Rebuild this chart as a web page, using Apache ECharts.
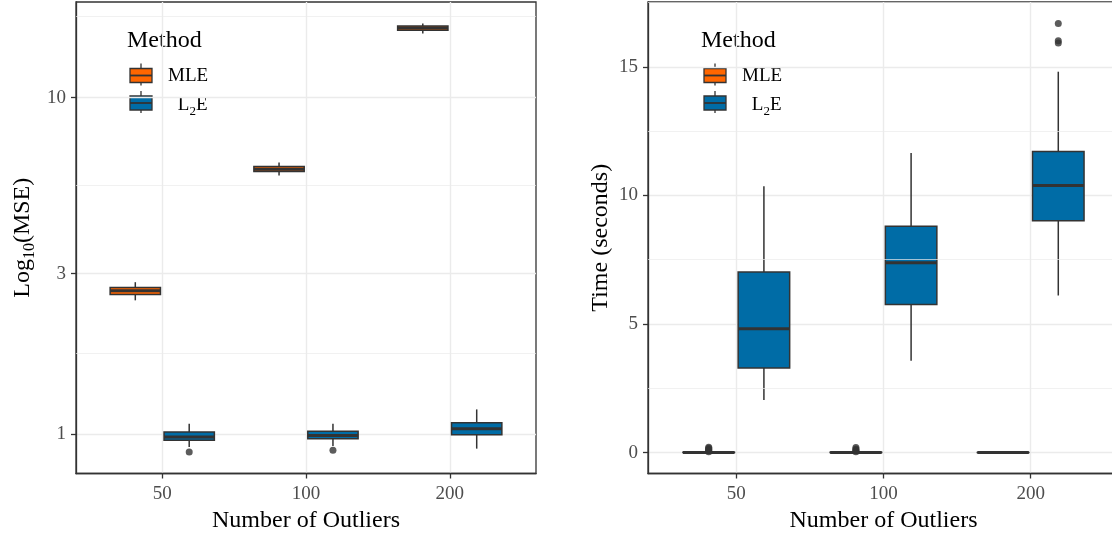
<!DOCTYPE html>
<html><head><meta charset="utf-8">
<script src="https://cdn.jsdelivr.net/npm/echarts@6/dist/echarts.min.js"></script>
<style>html,body{margin:0;padding:0;background:#fff;overflow:hidden}#c{width:1112px;height:533px}</style>
</head><body><div id="c"></div>
<script>
// ---------- data ----------
const categories = ['50', '100', '200'];
const methods = ['MLE', 'L2E'];
// Left panel: MSE, [min, Q1, median, Q3, max] (drawn on a log10 scale)
const mleMSE = [[2.50, 2.60, 2.67, 2.73, 2.83], [5.87, 6.03, 6.13, 6.24, 6.41], [15.5, 15.85, 16.09, 16.32, 16.6]];
const l2eMSE = [[0.917, 0.960, 0.982, 1.016, 1.076], [0.923, 0.971, 0.993, 1.021, 1.076], [0.907, 0.998, 1.040, 1.083, 1.186]];
const mleMSEOutliers = [[], [], []];
const l2eMSEOutliers = [[0.886], [0.897], []];
const mseTicks = [1, 3, 10];
const mseMinorGrid = [1.73, 5.48, 17.3];
// Right panel: Time (seconds), [min, Q1, median, Q3, max]
const mleTime = [[0.0, 0.005, 0.01, 0.015, 0.02], [0.0, 0.005, 0.01, 0.015, 0.02], [0.0, 0.003, 0.006, 0.009, 0.012]];
const l2eTime = [[2.05, 3.29, 4.82, 7.02, 10.36], [3.57, 5.76, 7.38, 8.80, 11.65], [6.11, 9.02, 10.39, 11.71, 14.81]];
const mleTimeOutliers = [[0.04, 0.07, 0.10, 0.13, 0.17, 0.21], [0.04, 0.07, 0.10, 0.14, 0.20], []];
const l2eTimeOutliers = [[], [], [15.93, 16.01, 16.68]];
const timeTicks = [0, 5, 10, 15];
const timeMinorGrid = [2.5, 7.5, 12.5, 17.5];

// ---------- style ----------
const FONT = '"Liberation Serif", "Times New Roman", serif';
const COLORS = { MLE: '#FF6600', L2E: '#006CA6' };
const DODGE = 0.1875, BOXW = 0.35;
const L10 = v => Math.log10(v);
const DARK = '#333333';

function boxSeries(ax, stats, color, offset, name, tf) {
  return {
    type: 'custom', name, xAxisIndex: ax, yAxisIndex: ax, z: 3, silent: true,
    data: stats.map((d, i) => [i + offset].concat(d.map(tf))),
    encode: { x: 0, y: [1, 2, 3, 4, 5] },
    renderItem(params, api) {
      const x = api.value(0);
      const lo = api.coord([x, api.value(1)]), q1 = api.coord([x, api.value(2)]),
            md = api.coord([x, api.value(3)]), q3 = api.coord([x, api.value(4)]),
            hi = api.coord([x, api.value(5)]);
      const hw = api.size([BOXW, 0])[0] / 2, cx = lo[0];
      const ln = { stroke: DARK, lineWidth: 1.5 };
      return { type: 'group', children: [
        { type: 'line', shape: { x1: cx, y1: hi[1], x2: cx, y2: q3[1] }, style: ln },
        { type: 'line', shape: { x1: cx, y1: q1[1], x2: cx, y2: lo[1] }, style: ln },
        { type: 'rect', shape: { x: cx - hw, y: q3[1], width: 2 * hw, height: q1[1] - q3[1] }, style: { fill: color, stroke: DARK, lineWidth: 1.5 } },
        { type: 'line', shape: { x1: cx - hw, y1: md[1], x2: cx + hw, y2: md[1] }, style: { stroke: DARK, lineWidth: 3 } }
      ]};
    }
  };
}
function outlierSeries(ax, lists, offset, tf) {
  const pts = [];
  lists.forEach((arr, i) => arr.forEach(v => pts.push([i + offset, tf(v)])));
  return { type: 'scatter', xAxisIndex: ax, yAxisIndex: ax, z: 4, silent: true, symbolSize: 7,
    itemStyle: { color: DARK }, data: pts };
}
function gridSeries(ax, vals) {
  return { type: 'line', xAxisIndex: ax, yAxisIndex: ax, z: 1, data: [], silent: true,
    markLine: { silent: true, symbol: ['none', 'none'], label: { show: false }, animation: false,
      lineStyle: { color: '#EBEBEB', width: 0.7, type: 'solid' },
      data: vals.map(v => ({ yAxis: v })) } };
}
function xAxis(ax) {
  const idx = categories.map((c, i) => i);
  return { type: 'value', gridIndex: ax, min: -0.6, max: 2.6,
    axisLine: { show: true, onZero: false, lineStyle: { color: DARK, width: 1.3 } },
    axisTick: { show: true, length: 5, customValues: idx, lineStyle: { color: DARK, width: 1.3 } },
    axisLabel: { customValues: idx, formatter: v => categories[Math.round(v)], color: '#4D4D4D', fontSize: 19, fontFamily: FONT, margin: 11 },
    splitLine: { show: true, lineStyle: { color: '#EBEBEB', width: 1.4 } },
    name: 'Number of Outliers', nameLocation: 'middle', nameGap: 33,
    nameTextStyle: { fontSize: 24, color: '#000', fontFamily: FONT } };
}
function yAxis(ax, min, max, ticks, fmt, name, gap) {
  return { type: 'value', gridIndex: ax, min, max,
    axisLine: { show: true, onZero: false, lineStyle: { color: DARK, width: 1.3 } },
    axisTick: { show: true, length: 5, customValues: ticks, lineStyle: { color: DARK, width: 1.3 } },
    axisLabel: { customValues: ticks, formatter: fmt, color: '#4D4D4D', fontSize: 19, fontFamily: FONT, margin: 10 },
    splitLine: { show: true, lineStyle: { color: '#EBEBEB', width: 1.4 } },
    name, nameLocation: 'middle', nameGap: gap,
    nameTextStyle: { fontSize: 24, color: '#000', fontFamily: FONT,
      rich: { n: { fontSize: 24, fontFamily: FONT, color: '#000', lineHeight: 30 },
              s: { fontSize: 16, fontFamily: FONT, color: '#000', lineHeight: 30, verticalAlign: 'bottom' } } } };
}
function legend(dx) {
  const key = (y, color) => [
    { type: 'line', shape: { x1: 141 + dx, y1: y - 12, x2: 141 + dx, y2: y + 10 }, style: { stroke: DARK, lineWidth: 1.3 } },
    { type: 'rect', shape: { x: 130 + dx, y: y - 7, width: 22, height: 14 }, style: { fill: color, stroke: DARK, lineWidth: 1.3 } },
    { type: 'line', shape: { x1: 130 + dx, y1: y, x2: 152 + dx, y2: y }, style: { stroke: DARK, lineWidth: 1.8 } }
  ];
  return [
    { type: 'text', x: 127 + dx, y: 41, style: { text: 'Method', font: '24px ' + FONT, fill: '#000', verticalAlign: 'middle' } },
    ...key(75.5, COLORS.MLE), ...key(103, COLORS.L2E),
    { type: 'text', x: 168 + dx, y: 76, style: { text: 'MLE', font: '19px ' + FONT, fill: '#000', verticalAlign: 'middle' } },
    { type: 'text', x: 207.5 + dx, y: 105, style: { text: '{n|L}{s|2}{n|E}', align: 'right', verticalAlign: 'middle',
      rich: { n: { fontSize: 19, fontFamily: FONT, fill: '#000', lineHeight: 26 }, s: { fontSize: 13, fontFamily: FONT, fill: '#000', lineHeight: 26, verticalAlign: 'bottom' } } } }
  ];
}

const ident = v => v;
const chart = echarts.init(document.getElementById('c'), null, { renderer: 'canvas' });
chart.setOption({
  animation: false,
  backgroundColor: '#ffffff',
  grid: [
    { left: 76, top: 2, width: 460, height: 471.5, show: true, borderColor: DARK, borderWidth: 1.3, backgroundColor: 'transparent', containLabel: false, outerBoundsMode: 'none' },
    { left: 648, top: 2, width: 471, height: 471.5, show: true, borderColor: DARK, borderWidth: 1.3, backgroundColor: 'transparent', containLabel: false, outerBoundsMode: 'none' }
  ],
  xAxis: [xAxis(0), xAxis(1)],
  yAxis: [
    yAxis(0, -0.1162, 1.2837, mseTicks.map(L10), v => String(Math.round(Math.pow(10, v))), '{n|Log}{s|10}{n|(MSE)}', 38),
    yAxis(1, -0.81, 17.52, timeTicks, v => String(v), 'Time (seconds)', 35)
  ],
  series: [
    gridSeries(0, mseMinorGrid.map(L10)),
    gridSeries(1, timeMinorGrid),
    boxSeries(0, mleMSE, COLORS.MLE, -DODGE, 'MLE', L10),
    boxSeries(0, l2eMSE, COLORS.L2E, DODGE, 'L2E', L10),
    outlierSeries(0, mleMSEOutliers, -DODGE, L10),
    outlierSeries(0, l2eMSEOutliers, DODGE, L10),
    boxSeries(1, mleTime, COLORS.MLE, -DODGE, 'MLE', ident),
    boxSeries(1, l2eTime, COLORS.L2E, DODGE, 'L2E', ident),
    outlierSeries(1, mleTimeOutliers, -DODGE, ident),
    outlierSeries(1, l2eTimeOutliers, DODGE, ident)
  ],
  graphic: [...legend(0), ...legend(574)]
});
</script></body></html>
